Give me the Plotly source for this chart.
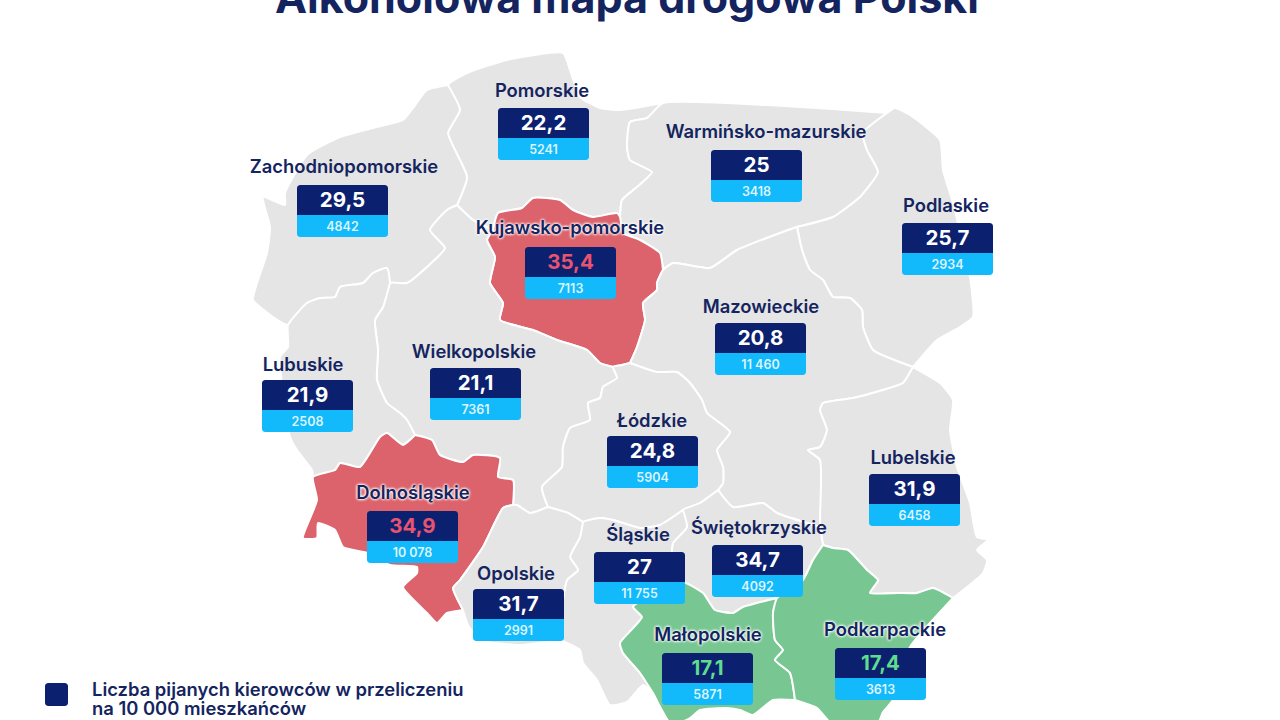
import math
import plotly.graph_objects as go

# Values
regions = ["Pomorskie", "Zachodniopomorskie", "Warmińsko-mazurskie", "Podlaskie",
           "Kujawsko-pomorskie", "Mazowieckie", "Wielkopolskie", "Lubuskie",
           "Łódzkie", "Lubelskie", "Dolnośląskie", "Świętokrzyskie",
           "Śląskie", "Opolskie", "Małopolskie", "Podkarpackie"]
drunk_per_10k = [22.2, 29.5, 25, 25.7, 35.4, 20.8, 21.1, 21.9,
                 24.8, 31.9, 34.9, 34.7, 27, 31.7, 17.1, 17.4]
drivers = [5241, 4842, 3418, 2934, 7113, 11460, 7361, 2508,
           5904, 6458, 10078, 4092, 11755, 2991, 5871, 3613]
worst = ["Kujawsko-pomorskie", "Dolnośląskie"]
best = ["Małopolskie", "Podkarpackie"]

# Where each card and name sits in the picture
card_left = [498, 297, 711, 902, 525, 715, 430, 262, 607, 869, 367, 712, 594, 473, 662, 835]
card_top = [108, 185, 150, 223, 247, 323, 368, 380, 436, 474, 511, 545, 552, 589, 653, 648]
name_x = [542, 344, 766, 946, 570, 761, 474, 303, 652, 913, 413, 759, 638, 516, 708, 885]
name_y = [90, 166, 131, 205, 227, 306, 351, 364, 420, 457, 492, 527, 534, 573, 634, 629]

# Borders, pixels (x, y)
z_out = [(288, 325), (273, 317), (253, 300), (257, 283), (267, 253), (270, 227), (263, 197), (285, 205),
         (285, 193), (307, 155), (340, 137), (373, 128), (403, 120), (413, 108), (427, 90), (448, 85)]
z_pom = [(448, 85), (460, 110), (448, 133), (467, 177), (457, 205)]
z_wlk = [(457, 205), (447, 210), (430, 230), (445, 248), (427, 267), (407, 283), (390, 283)]
z_lub = [(390, 283), (387, 268), (373, 273), (363, 283), (340, 287), (335, 297), (320, 298), (307, 303), (288, 325)]
lub_wlk = [(390, 283), (383, 307), (375, 320), (378, 350), (377, 380), (387, 403), (400, 413), (407, 420), (415, 435)]
lub_out = [(288, 325), (288, 347), (280, 357), (284, 400), (290, 437), (297, 450), (312, 470), (313, 477)]
dol_lub = [(313, 477), (335, 470), (340, 463), (360, 467), (380, 437), (387, 433), (403, 445), (415, 435)]
dol_wlk = [(415, 435), (432, 440), (440, 455), (463, 462), (473, 455), (500, 458), (498, 477), (513, 480), (513, 505)]
dol_op = [(513, 505), (503, 508), (483, 547), (460, 580), (453, 588), (463, 610)]
dol_out = [(463, 610), (447, 613), (437, 623), (427, 613), (403, 587), (417, 573), (417, 567), (390, 565),
           (368, 553), (343, 547), (335, 530), (318, 523), (317, 538), (303, 538), (317, 500), (313, 477)]
wlk_op = [(513, 505), (517, 505), (530, 513), (548, 507)]
wlk_ldz = [(548, 507), (542, 487), (562, 467), (563, 447), (570, 428), (590, 420), (588, 403), (600, 398),
           (603, 387), (617, 378), (613, 367)]
pom_wlk = [(457, 205), (473, 220), (493, 230)]
kuj_wlk = [(493, 230), (487, 240), (495, 257), (490, 283), (503, 303), (500, 320), (533, 330), (557, 340),
           (587, 350), (600, 363), (613, 367)]
kuj_ldz = [(613, 367), (622, 365), (630, 363)]
kuj_maz = [(630, 363), (637, 347), (645, 320), (643, 303), (657, 290), (657, 283), (663, 270)]
kuj_warm = [(663, 270), (660, 253), (640, 240), (623, 233), (620, 217)]
kuj_pom = [(620, 217), (617, 213), (593, 217), (573, 210), (560, 200), (533, 198), (522, 208), (498, 213), (493, 230)]
ldz_maz = [(630, 363), (657, 372), (677, 372), (690, 383), (702, 400), (707, 413), (730, 432), (717, 450),
           (723, 467), (723, 483), (718, 490)]
ldz_swi = [(718, 490), (700, 503), (683, 510)]
ldz_sl = [(683, 510), (660, 525), (640, 528), (613, 520), (600, 518), (583, 522)]
ldz_op = [(583, 522), (568, 513), (548, 507)]
op_sl = [(583, 522), (580, 537), (570, 557), (578, 570), (567, 580), (563, 600), (560, 640)]
op_out = [(463, 610), (468, 625), (480, 640), (520, 645), (560, 640)]
sl_out = [(560, 640), (580, 650), (583, 663), (597, 680), (610, 705), (627, 702), (643, 685), (653, 693)]
sl_mal = [(653, 693), (640, 673), (623, 653), (620, 643), (642, 617), (633, 607), (650, 595), (685, 583)]
sl_swi = [(685, 583), (672, 552), (673, 543), (687, 527), (683, 510)]
swi_mal = [(685, 583), (703, 593), (715, 610), (733, 613), (743, 607), (777, 598)]
mal_pod = [(777, 598), (773, 613), (775, 640), (783, 650), (775, 660), (790, 673), (795, 700)]
mal_out = [(653, 693), (672, 725), (690, 718), (700, 710), (727, 708), (740, 710), (753, 715), (773, 700), (795, 700)]
pod_out = [(795, 700), (817, 708), (833, 725), (877, 725), (883, 712), (893, 700), (910, 647), (930, 623), (953, 598)]
pod_lub = [(953, 598), (933, 588), (917, 593), (897, 593), (870, 593), (878, 580), (867, 570), (848, 550),
           (833, 548), (823, 545)]
pod_swi = [(823, 545), (813, 560), (803, 580), (777, 598)]
lub_swi = [(823, 545), (820, 527)]
swi_maz = [(820, 527), (777, 513), (763, 503), (733, 507), (718, 490)]
lubl_maz = [(820, 527), (820, 460), (808, 450), (820, 447), (827, 430), (820, 410), (823, 403), (853, 398),
            (883, 390), (903, 383), (913, 367)]
lubl_out = [(913, 367), (940, 383), (953, 400), (950, 430), (957, 467), (970, 503), (977, 537), (988, 540),
            (977, 550), (987, 560), (983, 573), (953, 598)]
maz_pod = [(797, 227), (802, 250), (810, 270), (823, 280), (833, 297), (850, 298), (862, 310), (863, 327),
           (873, 350), (913, 367)]
warm_maz = [(663, 270), (673, 263), (710, 268), (737, 250), (780, 233), (797, 227)]
warm_pod = [(797, 227), (833, 217), (860, 197), (878, 172), (867, 150), (863, 133), (887, 113)]
pod_east = [(887, 113), (895, 108), (910, 115), (940, 140), (943, 170), (953, 203), (970, 277), (973, 317),
            (960, 327), (937, 340), (913, 367)]
warm_top = [(663, 103), (887, 113)]
pom_warm = [(620, 217), (622, 200), (637, 187), (652, 172), (630, 160), (627, 147), (630, 122), (647, 118), (663, 103)]
pom_coast = [(448, 85), (467, 73), (507, 60), (563, 53), (570, 70), (580, 97), (600, 108), (620, 110), (663, 103)]

# Each region is a ring of borders, [::-1] where the border runs the other way
outlines = {
    "Pomorskie": [pom_coast, pom_warm[::-1], kuj_pom, pom_wlk[::-1], z_pom[::-1]],
    "Zachodniopomorskie": [z_out, z_pom, z_wlk, z_lub],
    "Warmińsko-mazurskie": [warm_top, warm_pod[::-1], warm_maz[::-1], kuj_warm, pom_warm],
    "Podlaskie": [pod_east, maz_pod[::-1], warm_pod],
    "Kujawsko-pomorskie": [kuj_pom, kuj_wlk, kuj_ldz, kuj_maz, kuj_warm],
    "Mazowieckie": [warm_maz, maz_pod, lubl_maz[::-1], swi_maz, ldz_maz[::-1], kuj_maz],
    "Wielkopolskie": [z_wlk[::-1], pom_wlk, kuj_wlk, wlk_ldz[::-1], wlk_op[::-1], dol_wlk[::-1], lub_wlk[::-1]],
    "Lubuskie": [z_lub[::-1], lub_wlk, dol_lub[::-1], lub_out[::-1]],
    "Łódzkie": [kuj_ldz, ldz_maz, ldz_swi, ldz_sl, ldz_op, wlk_ldz],
    "Lubelskie": [lubl_maz, lubl_out, pod_lub, lub_swi],
    "Dolnośląskie": [dol_lub, dol_wlk, dol_op, dol_out],
    "Świętokrzyskie": [ldz_swi[::-1], swi_maz[::-1], lub_swi[::-1], pod_swi, swi_mal[::-1], sl_swi],
    "Śląskie": [ldz_sl[::-1], sl_swi[::-1], sl_mal[::-1], sl_out[::-1], op_sl[::-1]],
    "Opolskie": [wlk_op, ldz_op[::-1], op_sl, op_out[::-1], dol_op[::-1]],
    "Małopolskie": [swi_mal, mal_pod, mal_out[::-1], sl_mal],
    "Podkarpackie": [pod_swi[::-1], pod_lub[::-1], pod_out[::-1], mal_pod[::-1]],
}

NAVY = "#0b2170"
SKY = "#12b9fb"
INK = "#14245f"
GREY = "#e5e5e5"
RED = "#dc636b"
GREEN = "#78c792"
FONT = "Inter"
CARD_W = 91
NAVY_H = 30
SKY_H = 22
TEXT_NUDGE = 2  # text traces sit a little high in their line box


def ring_xy(parts):
    pts = [p for part in parts for p in part]
    return [p[0] for p in pts], [p[1] for p in pts]


def rounded(x0, y0, x1, y1, top=True, bottom=True, r=3):
    # corners as short arcs, returned with a gap so cards share one trace
    corners = [(x0 + r, y0 + r, 180, top), (x1 - r, y0 + r, 270, top),
               (x1 - r, y1 - r, 0, bottom), (x0 + r, y1 - r, 90, bottom)]
    xs, ys = [], []
    for i, (cx, cy, start, keep) in enumerate(corners):
        if keep:
            for a in (0, 30, 60, 90):
                t = math.radians(start + a)
                xs.append(cx + r * math.cos(t))
                ys.append(cy + r * math.sin(t))
        else:
            xs.append(x0 if i in (0, 3) else x1)
            ys.append(y0 if i < 2 else y1)
    return xs + [xs[0], None], ys + [ys[0], None]


def fmt_count(n):
    return f"{n:,}".replace(",", " ") if n >= 10000 else str(n)


fig = go.Figure()

for name in regions:
    x, y = ring_xy(outlines[name])
    color = RED if name in worst else GREEN if name in best else GREY
    fig.add_trace(go.Scatter(x=x, y=y, mode="lines", fill="toself", fillcolor=color,
                             line=dict(color="white", width=2, shape="spline", smoothing=0.5),
                             hoverinfo="skip"))

navy_x, navy_y, sky_x, sky_y = [], [], [], []
for left, top in zip(card_left, card_top):
    a, b = rounded(left, top, left + CARD_W, top + NAVY_H, bottom=False)
    navy_x += a
    navy_y += b
    a, b = rounded(left, top + NAVY_H, left + CARD_W, top + NAVY_H + SKY_H, top=False)
    sky_x += a
    sky_y += b
a, b = rounded(45, 683, 68, 706)
navy_x += a
navy_y += b
for xs, ys, color in [(sky_x, sky_y, SKY), (navy_x, navy_y, NAVY)]:
    fig.add_trace(go.Scatter(x=xs, y=ys, mode="lines", fill="toself", fillcolor=color,
                             line=dict(width=0), hoverinfo="skip"))

halo = "0 0 3px #fff, 0 0 3px #fff, 0 0 3px #fff"
plain = [n for n in regions if n not in worst + best]
halos = [n for n in regions if n in worst + best]
for group, shadow in [(plain, "none"), (halos, halo)]:
    idx = [regions.index(n) for n in group]
    fig.add_trace(go.Scatter(x=[name_x[i] for i in idx], y=[name_y[i] + TEXT_NUDGE for i in idx],
                             text=group, mode="text", textposition="middle center",
                             textfont=dict(family=FONT, size=18.4, color=INK, weight=600, shadow=shadow),
                             hoverinfo="skip"))

value_colors = ["#e8536f" if n in worst else "#5fdc8d" if n in best else "white" for n in regions]
fig.add_trace(go.Scatter(x=[v + CARD_W / 2 for v in card_left],
                         y=[t + NAVY_H / 2 + TEXT_NUDGE for t in card_top],
                         text=[f"{v:g}".replace(".", ",") for v in drunk_per_10k],
                         mode="text", textposition="middle center",
                         textfont=dict(family=FONT, size=20.5, color=value_colors, weight=700),
                         hoverinfo="skip"))
fig.add_trace(go.Scatter(x=[v + CARD_W / 2 for v in card_left],
                         y=[t + NAVY_H + SKY_H / 2 + TEXT_NUDGE for t in card_top],
                         text=[fmt_count(n) for n in drivers],
                         mode="text", textposition="middle center",
                         textfont=dict(family=FONT, size=12.5, color="#dcf5ff", weight=600),
                         hoverinfo="skip"))

fig.add_annotation(x=627, y=25, xref="x", yref="y", yanchor="bottom", showarrow=False,
                   text="Alkoholowa mapa drogowa Polski",
                   font=dict(family=FONT, size=43, color=INK, weight=700))
for line, y in [("Liczba pijanych kierowców w przeliczeniu", 689), ("na 10 000 mieszkańców", 708)]:
    fig.add_annotation(x=90, y=y, xref="x", yref="y", xanchor="left", showarrow=False, text=line,
                       font=dict(family=FONT, size=18.4, color=INK, weight=600))

fig.update_layout(width=1280, height=720, margin=dict(l=0, r=0, t=0, b=0),
                  paper_bgcolor="white", plot_bgcolor="white", showlegend=False,
                  xaxis=dict(visible=False, range=[0, 1280], fixedrange=True),
                  yaxis=dict(visible=False, range=[720, 0], fixedrange=True))

fig.write_html("out.html", config={"displayModeBar": False},
               post_script="document.body.style.margin='0';")
